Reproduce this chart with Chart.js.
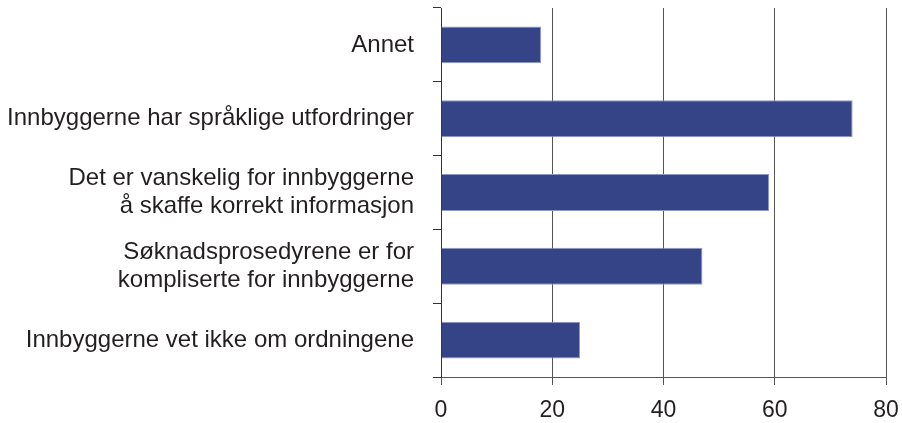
<!DOCTYPE html>
<html>
<head>
<meta charset="utf-8">
<script src="https://cdn.jsdelivr.net/npm/chart.js@4"></script>
<style>
html,body{margin:0;padding:0;background:#fff;}
#wrap{width:902px;height:423px;}
</style>
</head>
<body>
<div id="wrap"><canvas id="c" width="902" height="423"></canvas></div>
<script>
const categories = [
  "Annet",
  "Innbyggerne har språklige utfordringer",
  ["Det er vanskelig for innbyggerne", "å skaffe korrekt informasjon"],
  ["Søknadsprosedyrene er for", "kompliserte for innbyggerne"],
  "Innbyggerne vet ikke om ordningene"
];
const values = [18, 74, 59, 47, 25];
const xTicks = [0, 20, 40, 60, 80];

const FONT = "'Liberation Sans', Arial, sans-serif";
new Chart(document.getElementById('c'), {
  type: 'bar',
  data: {
    labels: categories,
    datasets: [{
      data: values,
      backgroundColor: '#344487',
      borderColor: '#8e98c6',
      borderWidth: 1,
      barPercentage: 0.5,
      categoryPercentage: 1.0
    }]
  },
  options: {
    indexAxis: 'y',
    responsive: false,
    animation: false,
    devicePixelRatio: 1,
    layout: { padding: { top: 8, right: 16, bottom: 0, left: 0 } },
    plugins: { legend: { display: false }, tooltip: { enabled: false } },
    scales: {
      x: {
        min: 0, max: 80,
        afterBuildTicks: (s) => { s.ticks = xTicks.map(v => ({ value: v })); },
        afterFit: (s) => { s.height = 46; s.paddingLeft = 0; s.paddingRight = 0; },
        grid: { color: '#555', lineWidth: 1, drawTicks: true, tickLength: 8, tickColor: '#555' },
        border: { display: true, color: '#555', width: 1 },
        ticks: { color: '#231f20', font: { family: FONT, size: 23 }, padding: 12, maxRotation: 0 }
      },
      y: {
        afterFit: (s) => { s.width = 441; s.paddingTop = 0; s.paddingBottom = 0; },
        grid: { drawOnChartArea: false, drawTicks: true, tickLength: 8, color: '#333', offset: true },
        border: { display: true, color: '#333', width: 1 },
        ticks: { color: '#231f20', font: { family: FONT, size: 24, lineHeight: 1.14 }, padding: 19 }
      }
    }
  }
});
</script>
</body>
</html>
